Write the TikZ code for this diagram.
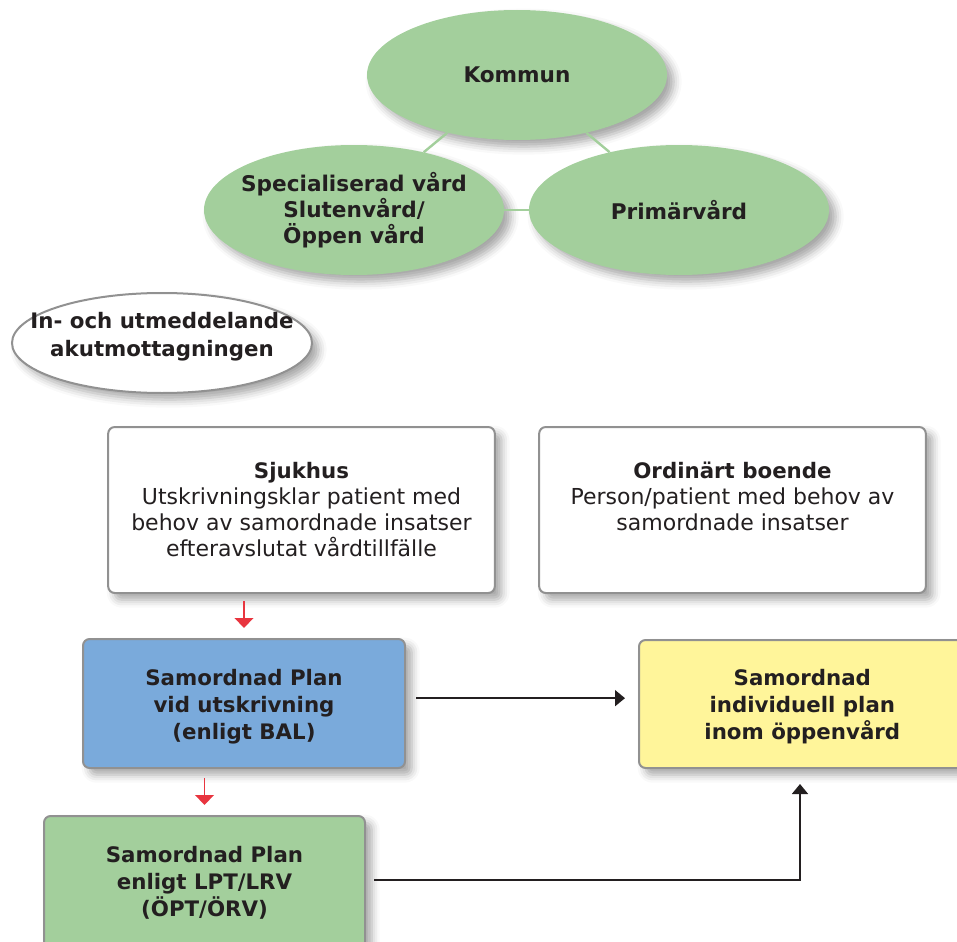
\documentclass[tikz,border=0pt]{standalone}
\usepackage{fontspec}
\setmainfont{DejaVu Sans}
\usetikzlibrary{shadows.blur,arrows.meta,shapes.geometric,calc}
\definecolor{txt}{RGB}{35,31,32}
\definecolor{grn}{RGB}{163,207,156}
\definecolor{blu}{RGB}{122,170,219}
\definecolor{yel}{RGB}{255,245,154}
\definecolor{brd}{RGB}{145,145,145}
\definecolor{redc}{RGB}{232,53,63}
\tikzset{
  shd/.style={blur shadow={shadow xshift=5pt,shadow yshift=-5pt,shadow blur radius=6pt,shadow opacity=35}},
  btxt/.style={text=txt,align=center,font=\bfseries\fontsize{16}{20.25}\selectfont},
  otxt/.style={text=txt,align=center,font=\bfseries\fontsize{16.2}{19.5}\selectfont},
  wtxt/.style={anchor=north,yshift=-23.75pt,text=txt,align=center,font=\fontsize{16.5}{19.5}\selectfont},
  oval/.style={ellipse,fill=grn,inner sep=0pt,minimum width=225pt,minimum height=97.5pt,shd},
  boxw/.style={rectangle,rounded corners=5pt,draw=brd,line width=1.5pt,fill=white,shd,
     minimum width=290pt,minimum height=124.5pt},
  boxc/.style={rectangle,rounded corners=5pt,draw=brd,line width=1.5pt,shd},
  glink/.style={draw=grn,line width=1.8pt},
  redarr/.style={draw=redc,line width=1.3pt,-{Triangle[length=7.5pt,width=14pt]}},
  blkarr/.style={draw=txt,line width=1.3pt,-{Triangle[length=7.5pt,width=12pt]}}
}
\begin{document}
\begin{tikzpicture}[x=0.75pt,y=-0.75pt]
\useasboundingbox (0,0) rectangle (957,942);
\clip (0,0) rectangle (957,942);
\node[oval,label={[otxt]center:Kommun}] (kommun) at (517,75) {};
\node[oval,label={[otxt]center:Specialiserad vård\\Slutenvård/\\Öppen vård}] (spec) at (354,210) {};
\node[oval,label={[otxt]center:Primärvård}] (prim) at (679,210) {};
\draw[glink] (kommun) -- (spec);
\draw[glink] (kommun) -- (prim);
\draw[glink] (spec) -- (prim);
\node[ellipse,draw=brd,line width=1.5pt,fill=white,shd,inner sep=0pt,minimum width=225pt,minimum height=75pt,
  label={[btxt,yshift=5pt,font=\bfseries\fontsize{16}{21}\selectfont]center:In- och utmeddelande\\akutmottagningen}] (akut) at (162,343) {};
\node[boxw,label={[wtxt]north:\textbf{\fontsize{16}{19.5}\selectfont Sjukhus}\\Utskrivningsklar patient med\\behov av samordnade insatser\\efteravslutat vårdtillfälle}]
  (sjuk) at (301.5,510) {};
\node[boxw,label={[wtxt]north:\textbf{\fontsize{16}{19.5}\selectfont Ordinärt boende}\\Person/patient med behov av\\samordnade insatser}]
  (ord) at (732.5,510) {};
\node[boxc,fill=blu,minimum width=241.5pt,minimum height=96.75pt,
  label={[btxt,yshift=-2.25pt]center:Samordnad Plan\\vid utskrivning\\(enligt BAL)}] (bal) at (244,703.5) {};
\node[boxc,fill=grn,minimum width=240.75pt,minimum height=100.5pt,
  label={[btxt]center:Samordnad Plan\\enligt LPT/LRV\\(ÖPT/ÖRV)}] (lpt) at (204.5,883) {};
\node[boxc,fill=yel,minimum width=249pt,minimum height=96pt,
  label={[btxt,yshift=-2.25pt,xshift=-2pt]center:Samordnad\\individuell plan\\inom öppenvård}] (sip) at (805,704) {};
\draw[redarr,shorten <=5.25pt,shorten >=7.5pt] (sjuk.south -| bal.north) -- (bal.north);
\draw[redarr,shorten <=6.75pt,shorten >=7.5pt] (bal.south -| lpt.north) -- (lpt.north);
\draw[blkarr,shorten <=7.5pt,shorten >=9.75pt] ([yshift=4pt]bal.east) -- ([yshift=4pt]bal.east -| sip.west);
\draw[blkarr,shorten <=6pt,shorten >=11.25pt] ([yshift=2pt]lpt.east) -| ([xshift=-3.75pt]sip.south);
\end{tikzpicture}
\end{document}
